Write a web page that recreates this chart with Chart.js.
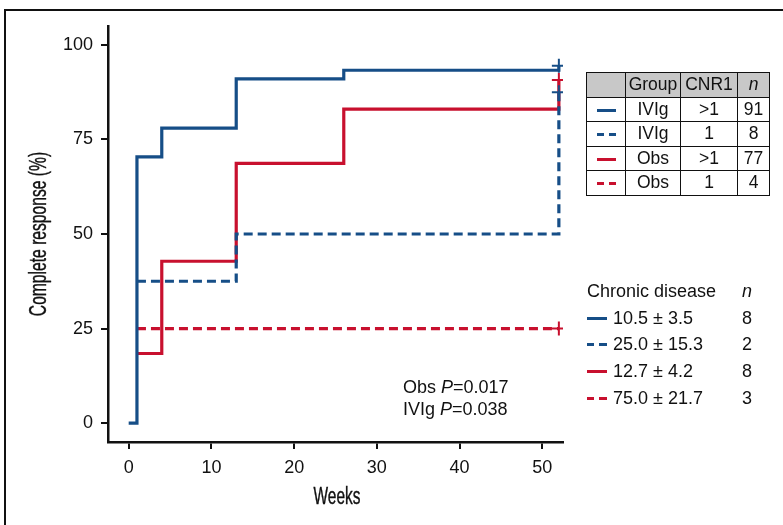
<!DOCTYPE html>
<html>
<head>
<meta charset="utf-8">
<title>Complete response</title>
<script src="https://cdn.jsdelivr.net/npm/chart.js@4.4.1/dist/chart.umd.min.js"></script>
<style>
  html, body { margin: 0; padding: 0; background: #fff; }
  body { width: 783px; height: 525px; position: relative; overflow: hidden;
         font-family: "Liberation Sans", Arial, sans-serif; color: #111; }
  #frame { position: absolute; left: 4px; top: 9px; width: 900px; height: 600px;
           border: 2.5px solid #111; box-sizing: border-box; }
  #chart { position: absolute; left: 0; top: 0; }
  .axt { position: absolute; font-size: 23px; white-space: nowrap; line-height: 26px;
         -webkit-text-stroke: 0.4px #111; }
  #xt { left: 337px; top: 496px; transform: translate(-50%, -50%) scaleX(0.67); }
  #yt { left: 38px; top: 234px; transform: translate(-50%, -50%) rotate(-90deg) scaleX(0.68); }
  #grp { position: absolute; left: 586px; top: 72px; border-collapse: collapse; font-size: 17.5px; }
  #grp td { border: 1.5px solid #111; text-align: center; padding: 0; height: 23.5px; line-height: 23px; }
  #grp tr.hd td { background: #c8c8c8; }
  .sw { display: inline-block; width: 19px; height: 3px; vertical-align: middle; }
  #legend { position: absolute; left: 587px; top: 279px; font-size: 18px; }
  #legend .row { position: relative; height: 26.7px; line-height: 24px; }
  #legend .lbl { position: absolute; left: 26px; top: 0; white-space: nowrap; }
  #legend .n { position: absolute; left: 154px; top: 0; width: 12px; text-align: center; }
  #legend .sw { position: absolute; left: 0; top: 11px; width: 20px; }
  #pvals { position: absolute; left: 403px; top: 376px; font-size: 18px; line-height: 22px; }
</style>
</head>
<body>
<canvas id="chart" width="783" height="525"></canvas>
<div id="frame"></div>
<div class="axt" id="xt">Weeks</div>
<div class="axt" id="yt">Complete response (%)</div>
<table id="grp"></table>
<div id="legend"></div>
<div id="pvals">Obs <i>P</i>=0.017<br>IVIg <i>P</i>=0.038</div>
<script>
// data
const xTicks = [0, 10, 20, 30, 40, 50];
const yTicks = [0, 25, 50, 75, 100];

const ivigHighWeeks = [0, 1, 4, 13, 26, 52];
const ivigHighResp  = [0, 70.4, 78, 91, 93.3, 94.5];
const ivigLowWeeks  = [1, 13, 52];
const ivigLowResp   = [37.5, 50, 87.5];
const obsHighWeeks  = [1, 4, 13, 26, 52];
const obsHighResp   = [18.4, 42.8, 68.7, 83, 90.7];
const obsLowWeeks   = [1, 52];
const obsLowResp    = [25, 25];

const tableGroups = ['IVIg', 'IVIg', 'Obs', 'Obs'];
const tableCNR1   = ['>1', '1', '>1', '1'];
const tableN      = [91, 8, 77, 4];

const chronicLabels = ['10.5 \u00b1 3.5', '25.0 \u00b1 15.3', '12.7 \u00b1 4.2', '75.0 \u00b1 21.7'];
const chronicN      = [8, 2, 8, 3];

const BLUE = '#164e87';
const RED = '#c8102e';
const seriesColors = [BLUE, BLUE, RED, RED];
const seriesDashed = [false, true, false, true];

function swatch(color, dashed) {
  const bg = dashed
    ? `linear-gradient(to right, ${color} 0 7px, transparent 7px 12px, ${color} 12px 19px)`
    : color;
  return `<span class="sw" style="background:${bg}"></span>`;
}

// group table
const tbl = document.getElementById('grp');
let html = '<tr class="hd"><td style="width:38px"></td><td style="width:54px">Group</td>' +
  '<td style="width:56px">CNR1</td><td style="width:31px"><i>n</i></td></tr>';
tableGroups.forEach((g, i) => {
  html += `<tr><td>${swatch(seriesColors[i], seriesDashed[i])}</td><td>${g}</td>` +
    `<td>${tableCNR1[i].replace('>', '&gt;')}</td><td>${tableN[i]}</td></tr>`;
});
tbl.innerHTML = html;

// chronic disease legend
const leg = document.getElementById('legend');
let lh = '<div class="row"><span style="position:absolute;left:0;top:0;white-space:nowrap">Chronic disease</span>' +
  '<span class="n"><i>n</i></span></div>';
chronicLabels.forEach((l, i) => {
  lh += `<div class="row">${swatch(seriesColors[i], seriesDashed[i])}<span class="lbl">${l}</span>` +
    `<span class="n">${chronicN[i]}</span></div>`;
});
leg.innerHTML = lh;

function toPoints(xs, ys) {
  return xs.map((x, i) => ({ x, y: ys[i] }));
}

function series(label, xs, ys, color, dashed) {
  return {
    label,
    data: toPoints(xs, ys),
    borderColor: color,
    borderWidth: 3.2,
    borderDash: dashed ? [9, 5] : [],
    stepped: 'before',
    fill: false,
    pointStyle: 'cross',
    pointRadius: ctx => ctx.dataIndex === ctx.dataset.data.length - 1 ? 7 : 0,
    pointBorderColor: color,
    pointBorderWidth: 2,
    pointHoverRadius: 0
  };
}

const ink = '#111';
Chart.defaults.font.family = "'Liberation Sans', Arial, sans-serif";
Chart.defaults.color = ink;

new Chart(document.getElementById('chart').getContext('2d'), {
  type: 'line',
  data: {
    datasets: [
      series('IVIg >1', ivigHighWeeks, ivigHighResp, BLUE, false),
      series('IVIg 1', ivigLowWeeks, ivigLowResp, BLUE, true),
      series('Obs >1', obsHighWeeks, obsHighResp, RED, false),
      series('Obs 1', obsLowWeeks, obsLowResp, RED, true)
    ]
  },
  options: {
    responsive: false,
    animation: false,
    layout: { padding: { left: 0, right: 220, top: 26, bottom: 0 } },
    plugins: { legend: { display: false }, tooltip: { enabled: false } },
    scales: {
      x: {
        type: 'linear',
        min: -2.5,
        max: 52.5,
        afterBuildTicks: s => { s.ticks = xTicks.map(v => ({ value: v })); },
        afterFit: s => { s.height = 83; },
        ticks: { font: { size: 18 }, color: ink, padding: 8, maxRotation: 0, autoSkip: false },
        grid: { drawOnChartArea: false, drawTicks: true, tickLength: 7, color: ink, lineWidth: 2 },
        border: { color: ink, width: 2.5 }
      },
      y: {
        type: 'linear',
        min: -5,
        max: 105,
        afterBuildTicks: s => { s.ticks = yTicks.map(v => ({ value: v })); },
        afterFit: s => { s.width = 108; },
        ticks: { font: { size: 18 }, color: ink, padding: 8 },
        grid: { drawOnChartArea: false, drawTicks: true, tickLength: 7, color: ink, lineWidth: 2 },
        border: { color: ink, width: 2.5 }
      }
    }
  }
});
</script>
</body>
</html>
